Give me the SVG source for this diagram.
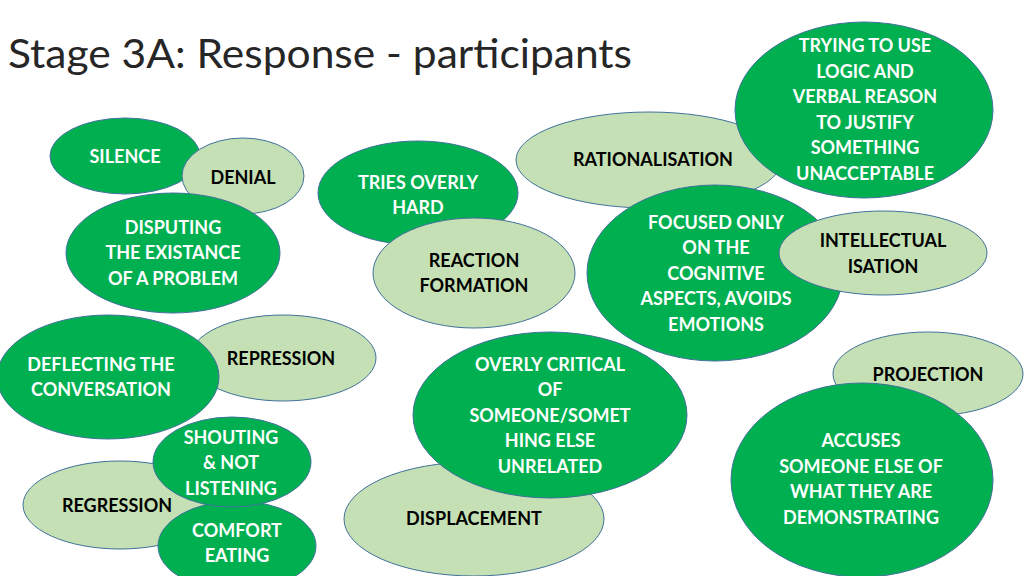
<svg xmlns="http://www.w3.org/2000/svg" width="1024" height="576" viewBox="0 0 1024 576">
<style>
.d{fill:#00B050;stroke:#41719C;stroke-width:1}
.l{fill:#C5E0B4;stroke:#41719C;stroke-width:1}
text{font-family:Lato,"Liberation Sans",sans-serif;font-weight:bold;font-size:18px;text-anchor:middle}
.w{fill:#FFFFFF}
.k{fill:#000000}
.title{font-family:Lato,"Liberation Sans",sans-serif;font-weight:normal;font-size:40px;text-anchor:start;fill:#262626}
</style>
<rect width="1024" height="576" fill="#FFFFFF"/>
<text class="title" x="8" y="68" textLength="624" lengthAdjust="spacingAndGlyphs">Stage 3A: Response - participants</text>
<g id="connectors"/>
<g id="silence"><ellipse class="d" cx="125" cy="156" rx="75" ry="38"/><text class="w" x="125" y="163">SILENCE</text></g>
<g id="denial"><ellipse class="l" cx="243" cy="176" rx="61" ry="38"/><text class="k" x="243" y="184">DENIAL</text></g>
<g id="disputing"><ellipse class="d" cx="173" cy="253" rx="107" ry="60"/><text class="w" x="173" y="234">DISPUTING</text><text class="w" x="173" y="259">THE EXISTANCE</text><text class="w" x="173" y="285">OF A PROBLEM</text></g>
<g id="tries"><ellipse class="d" cx="418" cy="193" rx="100" ry="52"/><text class="w" x="418" y="189">TRIES OVERLY</text><text class="w" x="418" y="214">HARD</text></g>
<g id="reaction"><ellipse class="l" cx="474" cy="273" rx="101" ry="55"/><text class="k" x="474" y="267">REACTION</text><text class="k" x="474" y="292">FORMATION</text></g>
<g id="rationalisation"><ellipse class="l" cx="649" cy="160" rx="133" ry="48"/><text class="k" x="653" y="166">RATIONALISATION</text></g>
<g id="trying"><ellipse class="d" cx="864" cy="110" rx="129" ry="88"/><text class="w" x="865" y="52">TRYING TO USE</text><text class="w" x="865" y="78">LOGIC AND</text><text class="w" x="865" y="103">VERBAL REASON</text><text class="w" x="865" y="129">TO JUSTIFY</text><text class="w" x="865" y="154">SOMETHING</text><text class="w" x="865" y="180">UNACCEPTABLE</text></g>
<g id="focused"><ellipse class="d" cx="715" cy="273" rx="128" ry="88"/><text class="w" x="716" y="229">FOCUSED ONLY</text><text class="w" x="716" y="254">ON THE</text><text class="w" x="716" y="280">COGNITIVE</text><text class="w" x="716" y="305">ASPECTS, AVOIDS</text><text class="w" x="716" y="331">EMOTIONS</text></g>
<g id="intellectualisation"><ellipse class="l" cx="883" cy="253" rx="104" ry="42"/><text class="k" x="883" y="247">INTELLECTUAL</text><text class="k" x="883" y="273">ISATION</text></g>
<g id="repression"><ellipse class="l" cx="283" cy="358" rx="93" ry="43"/><text class="k" x="281" y="365">REPRESSION</text></g>
<g id="deflecting"><ellipse class="d" cx="108" cy="377" rx="111" ry="62"/><text class="w" x="101" y="371">DEFLECTING THE</text><text class="w" x="101" y="396">CONVERSATION</text></g>
<g id="regression"><ellipse class="l" cx="120" cy="505" rx="97" ry="44"/><text class="k" x="117" y="512">REGRESSION</text></g>
<g id="comfort"><ellipse class="d" cx="237" cy="546" rx="79" ry="45"/><text class="w" x="237" y="537">COMFORT</text><text class="w" x="237" y="562">EATING</text></g>
<g id="shouting"><ellipse class="d" cx="232" cy="462" rx="79" ry="45"/><text class="w" x="231" y="444">SHOUTING</text><text class="w" x="231" y="469">&amp; NOT</text><text class="w" x="231" y="495">LISTENING</text></g>
<g id="displacement"><ellipse class="l" cx="474" cy="519" rx="130" ry="57"/><text class="k" x="474" y="525">DISPLACEMENT</text></g>
<g id="overly"><ellipse class="d" cx="550" cy="415" rx="137" ry="83"/><text class="w" x="550" y="371">OVERLY CRITICAL</text><text class="w" x="550" y="396">OF</text><text class="w" x="550" y="422">SOMEONE/SOMET</text><text class="w" x="550" y="447">HING ELSE</text><text class="w" x="550" y="473">UNRELATED</text></g>
<g id="projection"><ellipse class="l" cx="928" cy="374" rx="95" ry="42"/><text class="k" x="928" y="381">PROJECTION</text></g>
<g id="accuses"><ellipse class="d" cx="862" cy="480" rx="131" ry="97"/><text class="w" x="861" y="447">ACCUSES</text><text class="w" x="861" y="473">SOMEONE ELSE OF</text><text class="w" x="861" y="498">WHAT THEY ARE</text><text class="w" x="861" y="524">DEMONSTRATING</text></g>
</svg>
